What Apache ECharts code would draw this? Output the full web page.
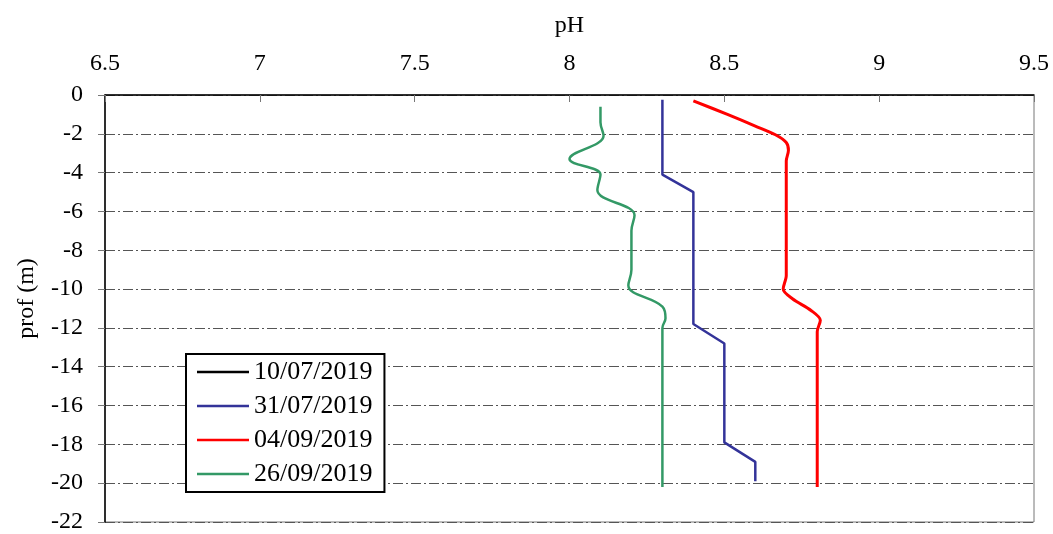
<!DOCTYPE html>
<html>
<head>
<meta charset="utf-8">
<script src="https://cdn.jsdelivr.net/npm/echarts@6/dist/echarts.min.js"></script>
<style>
  html, body { margin: 0; padding: 0; background: #fff; }
  #chart { width: 1053px; height: 534px; }
</style>
</head>
<body>
<div id="chart"></div>
<script>
var seriesNames = ["10/07/2019", "31/07/2019", "04/09/2019", "26/09/2019"];
var xTicks = [6.5, 7, 7.5, 8, 8.5, 9, 9.5];
var yTicks = [0, -2, -4, -6, -8, -10, -12, -14, -16, -18, -20, -22];

// 10/07/2019 : pas de valeurs visibles
var depth1007 = [];
var ph1007 = [];

// 31/07/2019
var depth3107 = [-0.25, -4.1, -5.0, -11.8, -12.8, -17.9, -18.9, -19.9];
var ph3107 = [8.30, 8.30, 8.40, 8.40, 8.50, 8.50, 8.60, 8.60];

// 04/09/2019
var depth0409 = [-0.3, -1.0, -1.6, -2.05, -2.45, -2.85, -3.4, -5, -7, -9.3, -10.0, -10.5, -11.1, -11.6, -12.2, -14, -16, -18, -20.2];
var ph0409 = [8.40, 8.51, 8.60, 8.665, 8.70, 8.707, 8.70, 8.70, 8.70, 8.70, 8.69, 8.72, 8.78, 8.81, 8.80, 8.80, 8.80, 8.80, 8.80];

// 26/09/2019
var depth2609 = [-0.6, -1.4, -2.1, -3.3, -4.1, -4.9, -6.2, -7.0, -9.0, -9.8, -10.9, -11.5, -12.0, -14, -16, -18, -20.2];
var ph2609 = [8.10, 8.10, 8.11, 8.00, 8.10, 8.09, 8.21, 8.20, 8.20, 8.19, 8.30, 8.31, 8.30, 8.30, 8.30, 8.30, 8.30];

var colors = ["#000000", "#333399", "#ff0000", "#339966"];
var font = "Liberation Serif";

function pairs(ph, depth) {
  return ph.map(function (v, i) { return [v, depth[i]]; });
}

var chart = echarts.init(document.getElementById("chart"));
chart.setOption({
  animation: false,
  color: colors,
  textStyle: { fontFamily: font, color: "#000" },
  grid: {
    left: 105, right: 19, top: 95, bottom: 7,
    show: true, borderColor: "#777", borderWidth: 1
  },
  legend: {
    orient: "vertical",
    left: 186, top: 354,
    padding: [5, 12, 5, 11],
    icon: "rect",
    itemWidth: 52, itemHeight: 2.5, itemGap: 8,
    backgroundColor: "#fff",
    borderColor: "#000", borderWidth: 2,
    textStyle: { fontFamily: font, fontSize: 26, color: "#000", lineHeight: 26 },
    data: seriesNames
  },
  xAxis: {
    type: "value",
    position: "top",
    min: xTicks[0], max: xTicks[xTicks.length - 1], interval: 0.5,
    name: "pH",
    nameLocation: "middle",
    nameGap: 57,
    nameTextStyle: { fontFamily: font, fontSize: 24, color: "#000" },
    axisLine: { lineStyle: { color: "#000", width: 1.5 } },
    axisTick: { show: true, inside: true, length: 7, lineStyle: { color: "#777" } },
    axisLabel: { fontFamily: font, fontSize: 24, color: "#000", margin: 19 },
    splitLine: { show: false }
  },
  yAxis: {
    type: "value",
    min: yTicks[yTicks.length - 1], max: yTicks[0], interval: 2,
    name: "prof (m)",
    nameLocation: "middle",
    nameRotate: 90,
    nameGap: 66,
    nameTextStyle: { fontFamily: font, fontSize: 24, color: "#000", padding: [0, 0, 0, 20] },
    axisLine: { onZero: false, lineStyle: { color: "#000", width: 1.5 } },
    axisTick: { show: true, length: 7, lineStyle: { color: "#777" } },
    axisLabel: { fontFamily: font, fontSize: 24, color: "#000", margin: 22 },
    splitLine: { show: true, lineStyle: { color: "#555", width: 1, type: [10, 3, 2, 3] } }
  },
  series: [
    {
      name: seriesNames[0], type: "line", symbol: "none",
      data: pairs(ph1007, depth1007),
      lineStyle: { width: 2.5, color: colors[0] }
    },
    {
      name: seriesNames[1], type: "line", symbol: "none",
      data: pairs(ph3107, depth3107),
      lineStyle: { width: 2.5, color: colors[1] }
    },
    {
      name: seriesNames[2], type: "line", symbol: "none", smooth: 0.3,
      data: pairs(ph0409, depth0409),
      lineStyle: { width: 3, color: colors[2] }
    },
    {
      name: seriesNames[3], type: "line", symbol: "none", smooth: 0.4,
      data: pairs(ph2609, depth2609),
      lineStyle: { width: 2.5, color: colors[3] }
    }
  ]
});
</script>
</body>
</html>
